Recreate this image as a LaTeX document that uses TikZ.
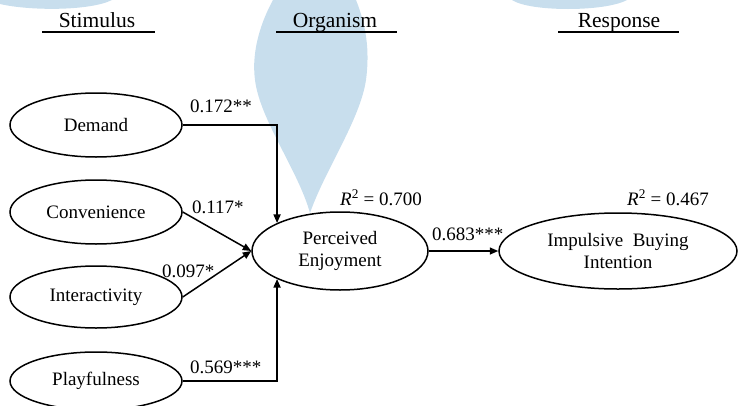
\documentclass[tikz,border=0pt]{standalone}
\usepackage{fontspec}
\setmainfont{Liberation Serif}
\usetikzlibrary{shapes.geometric,arrows.meta}
\definecolor{wm}{RGB}{200,222,237}
\begin{document}
\begin{tikzpicture}[x=1pt,y=-1pt,
  every node/.style={font=\fontsize{19}{22}\selectfont, inner sep=0pt},
  construct/.style={draw, ellipse, line width=1.5pt, align=center},
  link/.style={line width=1.5pt, -{Triangle[length=8.5pt,width=7pt]}},
  coef/.style={anchor=base west},
  head/.style={anchor=base, font=\fontsize{21.5}{24}\selectfont},
  uline/.style={line width=1.2pt}]
\useasboundingbox (0,0) rectangle (740,405);
% watermark
\fill[wm] (273,0) -- (356,0) .. controls (366,25) and (370,50) .. (366,80)
  .. controls (360,120) and (325,170) .. (310,213)
  .. controls (298,170) and (260,120) .. (255,80)
  .. controls (251,50) and (262,20) .. (273,0) -- cycle;
\fill[wm] (0,0) -- (112,0) .. controls (90,11) and (30,11) .. (0,4) -- cycle;
\fill[wm] (512,0) .. controls (530,12) and (605,12) .. (627,0) -- cycle;
% headers
\node[head] (hs) at (97,27) {Stimulus};
\node[head] (ho) at (335,27) {Organism};
\node[head] (hr) at (619,27) {Response};
\draw[uline] (42,32) -- (155,32);
\draw[uline] (276,32) -- (397,32);
\draw[uline] (558,32) -- (679,32);
% constructs
\node[construct, minimum width=172pt, minimum height=64pt] (dem) at (96,125) {Demand};
\node[construct, minimum width=172pt, minimum height=64pt] (con) at (96,212) {Convenience};
\node[construct, minimum width=172pt, minimum height=62pt] (int) at (96,297) {Interactivity};
\node[construct, minimum width=172pt, minimum height=58pt] (pla) at (96,381) {Playfulness};
\node[construct, minimum width=176pt, minimum height=78pt] (pe) at (340,251) {Perceived\\Enjoyment};
\node[construct, minimum width=238pt, minimum height=76pt] (ibi) at (618,251) {Impulsive\ \ Buying\\Intention};
% connectors
\draw[link] (dem.east) -| (pe.156);
\draw[link] (pla.east) -| (pe.204);
\draw[link] (con.east) -- (pe.west);
\draw[link] (int.east) -- (pe.west);
\draw[link] (pe.east) -- (ibi.west);
% coefficients
\node[coef] (c1) at (190,112) {0.172**};
\node[coef] (c2) at (192,213) {0.117*};
\node[coef] (c3) at (162,277) {0.097*};
\node[coef] (c4) at (190,373) {0.569***};
\node[coef] (c5) at (432,240) {0.683***};
\node[coef] (r1) at (340,205) {\textit{R}\textsuperscript{2} = 0.700};
\node[coef] (r2) at (627,205) {\textit{R}\textsuperscript{2} = 0.467};
\end{tikzpicture}
\end{document}
